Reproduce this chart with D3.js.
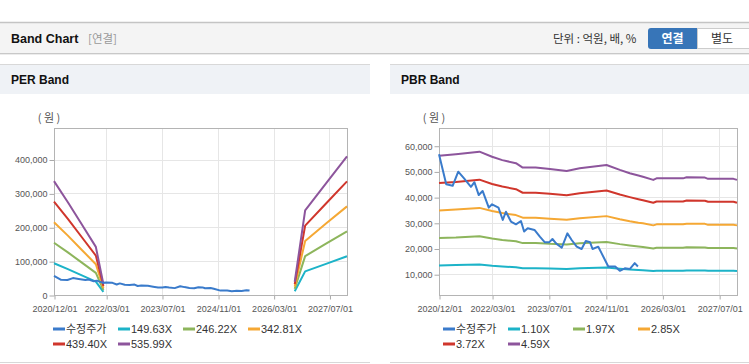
<!DOCTYPE html>
<meta charset="utf-8">
<script src="https://d3js.org/d3.v7.min.js"></script>
<style>
  body { margin: 0; background: #fff; }
  svg text { font-family: "Liberation Sans", Arial, "Noto Sans CJK KR", sans-serif; }
  .kr { font-family: "Noto Sans CJK KR", "Liberation Sans", sans-serif !important; }
  .tick-label { font-size: 9px; fill: #555; }
  .legend-text { font-size: 11px; fill: #333; }
</style>
<div id="my_dataviz"></div>
<script>

// price series (수정주가), shared by both charts
var priceDates = ["2020-12-01","2021-02-01","2021-03-28","2021-05-15","2021-07-04","2021-09-01","2021-10-01",
  "2021-11-07","2021-12-10","2022-02-01","2022-03-01","2022-04-25","2022-06-01","2022-06-28","2022-08-10",
  "2022-09-22","2022-11-04","2022-12-01","2023-01-01","2023-02-28","2023-04-15","2023-05-28","2023-07-04",
  "2023-08-01","2023-09-01","2023-10-20","2023-12-07","2024-01-13","2024-02-25","2024-04-07","2024-05-13",
  "2024-06-19","2024-07-10","2024-08-28","2024-09-25","2024-11-22","2025-01-20","2025-03-01","2025-04-13",
  "2025-05-25","2025-07-07","2025-08-03"];
var priceValues = [56700,45000,44400,49900,47300,44000,45800,40800,42400,35900,37200,35900,31100,34300,30500,
  29400,30700,26600,27900,27200,24600,22400,22400,23700,22000,20300,25900,23300,20700,19800,22900,
  22400,19800,20700,18200,13000,13000,11300,12300,12000,14300,13000];

// PER band (null = no data)
var perLabels = ["149.63X","246.22X","342.81X","439.40X","535.99X"];
var perDates = ["2020-12-01","2021-04-01","2021-08-01","2021-12-01","2022-02-05","2024-06-01",
  "2026-09-01","2026-12-01","2027-06-01","2027-12-01"];
var per1 = [93800,76500,58100,39700,9000,null,10900,69700,92000,114200];
var per2 = [154400,125800,95500,65200,14800,null,18000,114700,151400,187900];
var per3 = [214900,175200,133000,90800,20600,null,25000,159700,210800,261600];
var per4 = [275500,224500,170500,116400,26400,null,32100,204800,270200,335300];
var per5 = [336100,273900,208000,142000,32200,null,39100,249800,329600,409000];

// PBR band
var pbrLabels = ["1.10X","1.97X","2.85X","3.72X","4.59X"];
var pbrDates = ["2020-12-01","2021-04-25","2021-11-13","2022-03-01","2022-05-28","2022-09-22","2022-11-19",
  "2023-03-10","2023-07-10","2023-12-01","2024-03-22","2024-11-07","2025-03-01","2025-05-25","2025-08-07",
  "2025-09-15","2025-12-13","2026-01-10","2026-08-25","2026-09-25","2027-03-01","2027-03-28","2027-11-01","2027-12-01"];
var pbr1 = [13400,13600,13800,13300,13000,12700,12300,12300,12200,12000,12300,12600,12100,11800,11600,11500,11200,11300,11300,11400,11400,11300,11300,11200];
var pbr2 = [24100,24300,24800,23900,23300,22800,22100,22100,21800,21600,22000,22500,21700,21200,20800,20600,20000,20300,20300,20500,20400,20200,20200,20000];
var pbr3 = [34800,35200,35800,34600,33800,33000,32000,32000,31600,31200,31800,32600,31400,30600,30000,29800,29000,29400,29400,29600,29600,29200,29200,29000];
var pbr4 = [45500,45900,46800,45100,44100,43100,41700,41700,41300,40700,41500,42600,41000,40000,39200,38800,37800,38300,38300,38700,38600,38200,38200,37800];
var pbr5 = [56100,56700,57700,55700,54400,53200,51500,51500,50900,50200,51200,52500,50600,49300,48400,47900,46700,47300,47300,47700,47600,47100,47100,46700];

var xTickDates = ["2020-12-01","2022-03-01","2023-07-01","2024-11-01","2026-03-01","2027-07-01"];
var perTicks = [0,100000,200000,300000,400000];
var pbrTicks = [10000,20000,30000,40000,50000,60000];

var colors = ["#3a7bcb","#1cb3c8","#8db55c","#f5a834","#d0362c","#8d559c"];

var parse = d3.timeParse("%Y-%m-%d");
var fmtTick = d3.timeFormat("%Y/%m/%d");

var svg = d3.select("#my_dataviz").append("svg")
  .attr("width", 749).attr("height", 364);

// top bar
svg.append("rect").attr("x",0).attr("y",23).attr("width",749).attr("height",30).attr("fill","#f4f4f4");
svg.append("line").attr("x1",0).attr("x2",749).attr("y1",22.5).attr("y2",22.5).attr("stroke","#c4c4c4").attr("stroke-width",1.5);
svg.append("line").attr("x1",0).attr("x2",749).attr("y1",53.5).attr("y2",53.5).attr("stroke","#c8c8c8");
svg.append("line").attr("x1",0).attr("x2",749).attr("y1",54.5).attr("y2",54.5).attr("stroke","#ececec");
svg.append("text").attr("x",11).attr("y",43).attr("font-size","12.5px").attr("font-weight","bold")
  .attr("fill","#111").text("Band Chart");
svg.append("text").attr("class","kr").attr("x",88).attr("y",43).attr("font-size","11.5px")
  .attr("fill","#999").text("[연결]");
svg.append("text").attr("class","kr").attr("x",553).attr("y",43).attr("font-size","11.5px")
  .attr("fill","#333").text("단위 : 억원, 배, %");
svg.append("path").attr("d","M651,28 h46 v21 h-46 a3,3 0 0 1 -3,-3 v-15 a3,3 0 0 1 3,-3 z").attr("fill","#3775b8");
svg.append("rect").attr("x",697.5).attr("y",28.5).attr("width",52).attr("height",20).attr("fill","#fff").attr("stroke","#ccc");
svg.append("text").attr("class","kr").attr("x",672.5).attr("y",43).attr("text-anchor","middle").attr("font-size","12px")
  .attr("font-weight","bold").attr("fill","#fff").text("연결");
svg.append("text").attr("class","kr").attr("x",722).attr("y",43).attr("text-anchor","middle").attr("font-size","12px")
  .attr("fill","#333").text("별도");

function createBandChart(p) {
  var g = svg.append("g");

  // panel
  g.append("rect").attr("x",p.panelX).attr("y",64).attr("width",p.panelW).attr("height",30).attr("fill","#eff2f6");
  g.append("line").attr("x1",p.panelX).attr("x2",p.panelX+p.panelW).attr("y1",64.5).attr("y2",64.5).attr("stroke","#d8d8d8");
  g.append("line").attr("x1",p.panelX).attr("x2",p.panelX+p.panelW).attr("y1",362.5).attr("y2",362.5).attr("stroke","#d8d8d8");
  g.append("text").attr("x",p.panelX+11).attr("y",84).attr("font-size","12px").attr("font-weight","bold")
    .attr("fill","#111").text(p.title);
  g.append("text").attr("class","kr").attr("x",p.left-5).attr("y",122).attr("font-size","11px")
    .attr("text-anchor","middle").attr("fill","#555").text("( 원 )");

  var x = d3.scaleTime()
    .domain([parse("2020-12-01"), parse("2027-12-01")])
    .range([p.left, p.right]);
  var y = d3.scaleLinear().domain(p.yDomain).range([295, 128]);

  // grid
  g.append("g").selectAll("line").data(p.yTicks).enter().append("line")
    .attr("x1",p.left).attr("x2",p.right)
    .attr("y1",function(d){return Math.round(y(d))+0.5;}).attr("y2",function(d){return Math.round(y(d))+0.5;})
    .attr("stroke","#e6e6e6");
  g.append("g").selectAll("line").data(xTickDates).enter().append("line")
    .attr("x1",function(d){return Math.round(x(parse(d)))+0.5;}).attr("x2",function(d){return Math.round(x(parse(d)))+0.5;})
    .attr("y1",128).attr("y2",295).attr("stroke","#e6e6e6");

  // axes
  var yAxis = d3.axisLeft(y).tickValues(p.yTicks).tickSize(5).tickPadding(2).tickFormat(d3.format(","));
  var ya = g.append("g").attr("transform","translate(" + (p.left+0.5) + ",0.5)").call(yAxis);
  var xAxis = d3.axisBottom(x).tickValues(xTickDates.map(parse)).tickSize(4).tickPadding(6).tickFormat(fmtTick);
  var xa = g.append("g").attr("transform","translate(0.5,295.5)").call(xAxis);
  [ya, xa].forEach(function(a){
    a.select(".domain").remove();
    a.selectAll("line").attr("stroke","#aaa");
    a.selectAll("text").attr("class","tick-label").attr("fill",null);
  });

  // frame
  g.append("rect").attr("x",p.left+0.5).attr("y",128.5).attr("width",p.right-p.left).attr("height",167)
    .attr("fill","none").attr("stroke","#b4b4b4");

  var line = d3.line()
    .defined(function(d){return d.v !== null;})
    .x(function(d){return x(d.t);})
    .y(function(d){return y(d.v);});

  var series = p.bands.map(function(vals, i){
    return { color: colors[i+1], pts: p.bandDates.map(function(d, j){ return {t: parse(d), v: vals[j]}; }) };
  });
  series.push({ color: colors[0], pts: priceDates.map(function(d, j){ return {t: parse(d), v: priceValues[j]}; }) });

  g.append("g").selectAll("path").data(series).enter().append("path")
    .attr("d", function(s){return line(s.pts);})
    .attr("fill","none")
    .attr("stroke", function(s){return s.color;})
    .attr("stroke-width", 2)
    .attr("stroke-linejoin","round");

  // legend
  var names = ["수정주가"].concat(p.labels);
  var legend = g.append("g").selectAll("g").data(names).enter().append("g")
    .attr("transform", function(d, i){
      return "translate(" + (p.legendX + (i % 4) * 65) + "," + (329 + Math.floor(i / 4) * 15) + ")";
    });
  legend.append("rect").attr("x",0).attr("y",-1.5).attr("width",12).attr("height",3)
    .attr("fill", function(d, i){return colors[i];});
  legend.append("text").attr("class", function(d, i){return i === 0 ? "legend-text kr" : "legend-text";})
    .attr("x",13).attr("y",4).text(function(d){return d;});
}

createBandChart({
  title: "PER Band", panelX: 0, panelW: 370, left: 54, right: 347,
  yDomain: [0, 493000], yTicks: perTicks,
  bandDates: perDates, bands: [per1, per2, per3, per4, per5], labels: perLabels,
  legendX: 53
});

createBandChart({
  title: "PBR Band", panelX: 390, panelW: 359, left: 439, right: 737,
  yDomain: [1900, 66900], yTicks: pbrTicks,
  bandDates: pbrDates, bands: [pbr1, pbr2, pbr3, pbr4, pbr5], labels: pbrLabels,
  legendX: 443
});

</script>
